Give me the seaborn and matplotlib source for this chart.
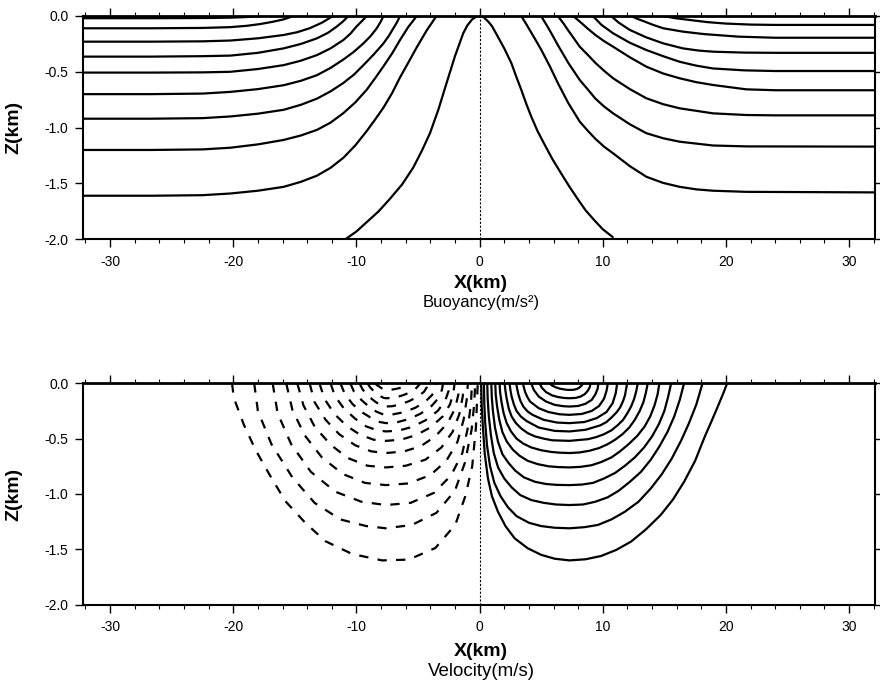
import matplotlib
matplotlib.use("Agg")
import matplotlib.pyplot as plt
import pandas as pd
import seaborn as sns
from matplotlib.ticker import MultipleLocator

# ---------------- axis ticks ----------------
x_ticks = [-30, -20, -10, 0, 10, 20, 30]
x_tick_labels = ["-30", "-20", "-10", "0", "10", "20", "30"]
z_ticks = [0.0, -0.5, -1.0, -1.5, -2.0]
z_tick_labels = ["0.0", "-0.5", "-1.0", "-1.5", "-2.0"]

# ---------------- top panel: buoyancy contours (x km, z km) ----------------
buoy_left_1 = [(-32.2, -0.02), (-26.7, -0.02), (-22.0, -0.018), (-20.25, -0.015), (-19.0, -0.01), (-17.8, 0.0)]
buoy_left_2 = [(-32.2, -0.11), (-26.7, -0.11), (-22.5, -0.107), (-20.25, -0.10), (-18.9, -0.088), (-17.8, -0.072),
               (-16.8, -0.052), (-15.9, -0.03), (-15.1, 0.0)]
buoy_left_3 = [(-32.2, -0.23), (-26.7, -0.23), (-22.5, -0.227), (-20.25, -0.22), (-18.0, -0.20), (-15.9, -0.17),
               (-14.8, -0.145), (-13.8, -0.11), (-12.8, -0.06), (-11.9, 0.0)]
buoy_left_4 = [(-32.2, -0.364), (-26.7, -0.364), (-22.5, -0.36), (-20.25, -0.355), (-18.0, -0.33), (-15.9, -0.29),
               (-14.5, -0.25), (-13.2, -0.20), (-12.3, -0.15), (-11.6, -0.095), (-11.1, -0.05), (-10.65, 0.0)]
buoy_left_5 = [(-32.2, -0.507), (-26.7, -0.507), (-22.5, -0.505), (-20.25, -0.50), (-18.0, -0.475), (-15.9, -0.44),
               (-14.5, -0.40), (-13.2, -0.35), (-12.1, -0.29), (-11.06, -0.215), (-10.5, -0.16), (-10.0, -0.095),
               (-9.55, -0.045), (-9.16, 0.0)]
buoy_left_6 = [(-32.2, -0.70), (-26.7, -0.70), (-22.5, -0.695), (-20.25, -0.68), (-18.0, -0.655), (-15.9, -0.62),
               (-14.5, -0.58), (-13.2, -0.53), (-12.1, -0.465), (-11.06, -0.39), (-10.2, -0.32), (-9.43, -0.245),
               (-8.85, -0.18), (-8.35, -0.11), (-8.05, -0.055), (-7.8, 0.0)]
buoy_left_7 = [(-32.2, -0.92), (-26.7, -0.92), (-22.5, -0.915), (-20.25, -0.90), (-18.0, -0.875), (-15.9, -0.84),
               (-14.5, -0.795), (-13.2, -0.74), (-12.1, -0.675), (-11.06, -0.60), (-10.2, -0.525), (-9.43, -0.44),
               (-8.6, -0.345), (-7.8, -0.245), (-7.35, -0.175), (-7.0, -0.11), (-6.7, -0.055), (-6.46, 0.0)]
buoy_left_8 = [(-32.2, -1.20), (-26.7, -1.20), (-22.5, -1.195), (-20.25, -1.18), (-18.0, -1.15), (-15.9, -1.11),
               (-14.5, -1.07), (-13.2, -1.02), (-12.1, -0.955), (-11.06, -0.87), (-10.1, -0.775), (-9.16, -0.66),
               (-8.5, -0.56), (-7.8, -0.45), (-7.1, -0.335), (-6.46, -0.215), (-5.8, -0.10), (-5.1, 0.0)]
buoy_left_9 = [(-32.2, -1.61), (-26.7, -1.61), (-22.5, -1.605), (-20.25, -1.59), (-18.0, -1.565), (-15.9, -1.53),
               (-14.5, -1.485), (-13.2, -1.43), (-12.1, -1.36), (-11.06, -1.27), (-10.1, -1.16), (-9.16, -1.03),
               (-8.5, -0.93), (-7.8, -0.82), (-7.1, -0.69), (-6.46, -0.55), (-5.8, -0.42), (-5.1, -0.28),
               (-4.3, -0.13), (-3.5, 0.0)]
buoy_center = [(-10.9, -2.0), (-10.0, -1.93), (-9.2, -1.85), (-8.2, -1.75), (-7.3, -1.64), (-6.3, -1.51),
               (-5.4, -1.36), (-4.7, -1.21), (-4.03, -1.05), (-3.35, -0.84), (-2.68, -0.60), (-2.0, -0.36),
               (-1.33, -0.155), (-1.0, -0.085), (-0.6, -0.03), (-0.3, -0.008), (0.0, 0.0),
               (0.3, -0.008), (0.7, -0.05), (1.0, -0.09), (1.48, -0.185), (2.0, -0.29), (2.57, -0.42),
               (3.0, -0.55), (3.38, -0.66), (3.8, -0.79), (4.19, -0.90), (4.7, -1.03), (5.27, -1.15),
               (5.9, -1.28), (6.62, -1.41), (7.3, -1.53), (7.97, -1.64), (8.6, -1.74), (9.32, -1.83),
               (10.0, -1.91), (10.81, -1.98)]
buoy_right_1 = [(14.9, 0.0), (15.9, -0.02), (17.0, -0.035), (18.5, -0.055), (20.0, -0.068), (22.0, -0.077),
                (24.0, -0.08), (32.1, -0.08)]
buoy_right_2 = [(12.3, 0.0), (12.8, -0.025), (13.4, -0.05), (14.1, -0.08), (14.9, -0.11), (16.5, -0.14),
                (18.2, -0.162), (21.0, -0.185), (24.0, -0.195), (32.1, -0.195)]
buoy_right_3 = [(10.67, 0.0), (11.3, -0.06), (12.2, -0.125), (13.5, -0.19), (14.9, -0.245), (16.5, -0.29),
                (17.8, -0.31), (19.0, -0.32), (21.5, -0.328), (24.0, -0.33), (32.1, -0.33)]
buoy_right_4 = [(9.19, 0.0), (9.9, -0.08), (10.84, -0.155), (12.2, -0.24), (13.54, -0.305), (14.9, -0.36),
                (16.24, -0.41), (17.6, -0.445), (18.95, -0.47), (21.5, -0.487), (24.0, -0.493), (32.1, -0.493)]
buoy_right_5 = [(7.6, 0.0), (8.13, -0.05), (8.8, -0.115), (9.4, -0.17), (10.1, -0.225), (10.84, -0.275),
                (12.2, -0.37), (13.54, -0.454), (14.9, -0.515), (16.24, -0.558), (17.6, -0.593), (18.95, -0.618),
                (21.65, -0.657), (24.0, -0.665), (32.1, -0.665)]
buoy_right_6 = [(6.35, 0.0), (6.8, -0.065), (7.2, -0.13), (7.65, -0.2), (8.13, -0.275), (8.8, -0.35),
                (9.4, -0.42), (10.1, -0.49), (10.84, -0.558), (12.2, -0.655), (13.54, -0.737), (14.9, -0.79),
                (16.24, -0.827), (18.95, -0.872), (21.65, -0.887), (24.0, -0.89), (32.1, -0.89)]
buoy_right_7 = [(4.99, 0.0), (5.35, -0.065), (5.7, -0.13), (6.35, -0.26), (7.2, -0.42), (8.13, -0.573),
                (8.8, -0.66), (9.4, -0.74), (10.1, -0.81), (10.84, -0.872), (12.2, -0.97), (13.54, -1.05),
                (14.9, -1.095), (16.24, -1.126), (18.95, -1.16), (21.65, -1.168), (32.1, -1.17)]
buoy_right_8 = [(3.38, 0.0), (3.8, -0.075), (4.2, -0.15), (4.6, -0.225), (4.99, -0.30), (5.7, -0.45),
                (6.35, -0.60), (7.2, -0.78), (8.13, -0.946), (8.8, -1.03), (9.4, -1.10), (10.1, -1.17),
                (10.84, -1.23), (12.2, -1.345), (13.54, -1.44), (14.9, -1.495), (16.24, -1.53), (17.6, -1.553),
                (18.95, -1.565), (21.65, -1.575), (32.1, -1.58)]

# ---------------- bottom panel: velocity contours ----------------
# positive velocity (solid), innermost first
vel_pos_1 = [(5.68, 0.0), (5.85, -0.018), (6.15, -0.035), (6.5, -0.048), (6.9, -0.056), (7.1, -0.059), (7.3, -0.06),
             (7.6, -0.059), (7.85, -0.053), (8.05, -0.043), (8.2, -0.029), (8.32, -0.015), (8.38, 0.0)]
vel_pos_2 = [(4.87, 0.0), (5.05, -0.04), (5.4, -0.08), (5.9, -0.11), (6.4, -0.125), (6.9, -0.133), (7.3, -0.135),
             (7.8, -0.132), (8.2, -0.12), (8.55, -0.097), (8.8, -0.065), (8.95, -0.033), (9.0, 0.0)]
vel_pos_3 = [(4.19, 0.0), (4.4, -0.06), (4.8, -0.12), (5.4, -0.165), (6.1, -0.195), (6.8, -0.207), (7.3, -0.21),
             (8.0, -0.205), (8.6, -0.185), (9.1, -0.15), (9.4, -0.10), (9.58, -0.05), (9.65, 0.0)]
vel_pos_4 = [(3.51, 0.0), (3.6, -0.04), (3.7, -0.08), (3.88, -0.125), (4.1, -0.165), (4.8, -0.225), (5.6, -0.26),
             (6.5, -0.28), (7.3, -0.285), (8.3, -0.277), (9.1, -0.25), (9.7, -0.205), (10.1, -0.14),
             (10.3, -0.07), (10.41, 0.0)]
vel_pos_5 = [(2.97, 0.0), (3.05, -0.05), (3.15, -0.10), (3.32, -0.16), (3.55, -0.21), (3.9, -0.255), (4.3, -0.285),
             (5.2, -0.33), (6.3, -0.355), (7.3, -0.36), (8.5, -0.35), (9.5, -0.315), (10.3, -0.26),
             (10.8, -0.18), (11.05, -0.09), (11.17, 0.0)]
vel_pos_6 = [(2.43, 0.0), (2.5, -0.06), (2.6, -0.12), (2.78, -0.19), (3.0, -0.25), (3.35, -0.30), (3.8, -0.34),
             (4.8, -0.40), (6.1, -0.43), (7.3, -0.435), (8.6, -0.42), (9.8, -0.38), (10.3, -0.35), (10.7, -0.31),
             (11.1, -0.265), (11.4, -0.22), (11.65, -0.16), (11.8, -0.11), (11.98, 0.0)]
vel_pos_7 = [(2.03, 0.0), (2.1, -0.07), (2.2, -0.14), (2.37, -0.23), (2.6, -0.30), (2.95, -0.36), (3.4, -0.41),
             (3.9, -0.45), (4.5, -0.48), (5.2, -0.50), (5.9, -0.515), (7.3, -0.52), (8.8, -0.505), (9.5, -0.485),
             (10.1, -0.46), (10.7, -0.425), (11.2, -0.38), (11.65, -0.33), (12.0, -0.27), (12.3, -0.21),
             (12.55, -0.14), (12.72, -0.07), (12.84, 0.0)]
vel_pos_8 = [(1.62, 0.0), (1.67, -0.085), (1.78, -0.17), (1.95, -0.27), (2.2, -0.36), (2.55, -0.435), (3.0, -0.50),
             (3.55, -0.545), (4.2, -0.58), (5.0, -0.605), (5.8, -0.62), (6.5, -0.627), (7.3, -0.63), (8.1, -0.625),
             (8.9, -0.61), (9.7, -0.585), (10.4, -0.55), (11.0, -0.51), (11.6, -0.46), (12.15, -0.40),
             (12.6, -0.33), (13.0, -0.25), (13.3, -0.17), (13.5, -0.085), (13.65, 0.0)]
vel_pos_9 = [(1.27, 0.0), (1.31, -0.105), (1.42, -0.21), (1.6, -0.33), (1.85, -0.44), (2.2, -0.525), (2.7, -0.60),
             (3.25, -0.655), (3.9, -0.70), (4.7, -0.73), (5.6, -0.75), (6.4, -0.757), (7.3, -0.76), (8.2, -0.755),
             (9.1, -0.74), (9.9, -0.71), (10.7, -0.67), (11.4, -0.615), (12.1, -0.55), (12.8, -0.475),
             (13.4, -0.39), (13.85, -0.30), (14.2, -0.20), (14.45, -0.10), (14.6, 0.0)]
vel_pos_10 = [(0.95, 0.0), (0.99, -0.125), (1.08, -0.25), (1.25, -0.40), (1.5, -0.53), (1.85, -0.64), (2.35, -0.72),
              (2.9, -0.79), (3.6, -0.85), (4.5, -0.89), (5.4, -0.91), (6.3, -0.918), (7.3, -0.92), (8.3, -0.915),
              (9.2, -0.90), (10.1, -0.86), (11.0, -0.81), (11.8, -0.745), (12.6, -0.67), (13.35, -0.58),
              (14.0, -0.48), (14.55, -0.37), (15.0, -0.25), (15.3, -0.125), (15.55, 0.0)]
vel_pos_11 = [(0.62, 0.0), (0.66, -0.15), (0.75, -0.30), (0.92, -0.47), (1.15, -0.63), (1.5, -0.76), (2.0, -0.86),
              (2.6, -0.94), (3.3, -1.01), (4.2, -1.055), (5.2, -1.08), (6.2, -1.095), (7.3, -1.10), (8.4, -1.095),
              (9.4, -1.07), (10.4, -1.03), (11.3, -0.97), (12.2, -0.89), (13.1, -0.80), (13.9, -0.69),
              (14.6, -0.57), (15.25, -0.44), (15.8, -0.30), (16.25, -0.15), (16.6, 0.0)]
vel_pos_12 = [(0.35, 0.0), (0.38, -0.18), (0.45, -0.35), (0.6, -0.56), (0.85, -0.75), (1.2, -0.90), (1.7, -1.02),
              (2.3, -1.12), (3.0, -1.20), (4.0, -1.26), (5.0, -1.29), (6.1, -1.305), (7.3, -1.31), (8.5, -1.30),
              (9.6, -1.28), (10.7, -1.23), (11.8, -1.16), (12.9, -1.07), (13.9, -0.95), (14.8, -0.82),
              (15.6, -0.68), (16.35, -0.52), (17.0, -0.36), (17.6, -0.19), (18.1, 0.0)]
vel_pos_13 = [(0.13, 0.0), (0.17, -0.2), (0.27, -0.40), (0.42, -0.64), (0.68, -0.86), (1.0, -1.02), (1.49, -1.16),
              (2.1, -1.29), (2.84, -1.40), (3.9, -1.49), (5.0, -1.55), (6.1, -1.585), (7.3, -1.60), (8.6, -1.59),
              (9.87, -1.56), (11.1, -1.505), (12.3, -1.43), (13.5, -1.32), (14.7, -1.19), (15.7, -1.05),
              (16.6, -0.89), (17.5, -0.70), (18.25, -0.49), (18.8, -0.35), (19.3, -0.22), (19.75, -0.10),
              (20.1, 0.0)]

# negative velocity (dashed), innermost first
vel_neg_1 = [(-8.5, 0.0), (-8.35, -0.015), (-8.15, -0.03), (-7.95, -0.045), (-7.8, -0.054), (-7.7, -0.058),
             (-7.6, -0.06), (-7.35, -0.059), (-7.0, -0.055), (-6.6, -0.046), (-6.2, -0.032), (-5.95, -0.018),
             (-5.8, -0.007), (-5.7, 0.0)]
vel_neg_2 = [(-9.1, 0.0), (-8.9, -0.035), (-8.6, -0.07), (-8.3, -0.1), (-8.0, -0.12), (-7.8, -0.131), (-7.6, -0.135),
             (-7.2, -0.133), (-6.7, -0.124), (-6.2, -0.107), (-5.6, -0.08), (-5.2, -0.05), (-4.95, -0.02),
             (-4.87, 0.0)]
vel_neg_3 = [(-9.75, 0.0), (-9.5, -0.055), (-9.1, -0.11), (-8.6, -0.155), (-8.2, -0.188), (-7.85, -0.205),
             (-7.6, -0.21), (-7.1, -0.207), (-6.4, -0.19), (-5.7, -0.16), (-5.0, -0.12), (-4.5, -0.075),
             (-4.27, -0.032), (-4.19, 0.0)]
vel_neg_4 = [(-10.5, 0.0), (-10.2, -0.075), (-9.6, -0.15), (-9.0, -0.21), (-8.4, -0.255), (-7.9, -0.278),
             (-7.6, -0.285), (-7.0, -0.28), (-6.1, -0.26), (-5.2, -0.22), (-4.4, -0.165), (-3.85, -0.105),
             (-3.6, -0.045), (-3.51, 0.0)]
vel_neg_5 = [(-11.3, 0.0), (-10.95, -0.095), (-10.3, -0.19), (-9.5, -0.265), (-8.7, -0.32), (-8.1, -0.35),
             (-7.6, -0.36), (-6.8, -0.355), (-5.8, -0.325), (-4.8, -0.275), (-3.9, -0.205), (-3.3, -0.13),
             (-3.05, -0.055), (-2.97, 0.0)]
vel_neg_6 = [(-12.1, 0.0), (-11.75, -0.115), (-11.0, -0.23), (-10.1, -0.32), (-9.2, -0.39), (-8.3, -0.425),
             (-7.6, -0.435), (-6.6, -0.428), (-5.5, -0.395), (-4.4, -0.335), (-3.4, -0.25), (-2.8, -0.16),
             (-2.52, -0.07), (-2.43, 0.0)]
vel_neg_7 = [(-13.0, 0.0), (-12.6, -0.14), (-11.8, -0.275), (-10.8, -0.385), (-9.7, -0.465), (-8.6, -0.51),
             (-7.6, -0.52), (-6.4, -0.51), (-5.2, -0.47), (-4.0, -0.40), (-3.0, -0.30), (-2.4, -0.19),
             (-2.12, -0.08), (-2.03, 0.0)]
vel_neg_8 = [(-13.8, 0.0), (-13.4, -0.17), (-12.5, -0.33), (-11.4, -0.46), (-10.1, -0.56), (-8.8, -0.615),
             (-7.6, -0.63), (-6.2, -0.617), (-4.8, -0.57), (-3.6, -0.48), (-2.6, -0.36), (-2.0, -0.23),
             (-1.72, -0.10), (-1.62, 0.0)]
vel_neg_9 = [(-14.8, 0.0), (-14.3, -0.20), (-13.4, -0.39), (-12.1, -0.555), (-10.7, -0.675), (-9.1, -0.745),
             (-7.6, -0.76), (-6.0, -0.745), (-4.4, -0.69), (-3.1, -0.58), (-2.2, -0.44), (-1.65, -0.28),
             (-1.37, -0.12), (-1.27, 0.0)]
vel_neg_10 = [(-15.7, 0.0), (-15.2, -0.24), (-14.2, -0.47), (-12.8, -0.67), (-11.1, -0.82), (-9.3, -0.90),
              (-7.6, -0.92), (-5.8, -0.905), (-4.0, -0.83), (-2.7, -0.70), (-1.8, -0.53), (-1.3, -0.33),
              (-1.05, -0.15), (-0.95, 0.0)]
vel_neg_11 = [(-16.8, 0.0), (-16.4, -0.27), (-15.3, -0.55), (-13.7, -0.80), (-11.7, -0.98), (-9.6, -1.07),
              (-7.6, -1.10), (-5.6, -1.08), (-3.7, -0.99), (-2.3, -0.83), (-1.4, -0.63), (-0.95, -0.40),
              (-0.7, -0.18), (-0.62, 0.0)]
vel_neg_12 = [(-18.3, 0.0), (-18.0, -0.25), (-16.9, -0.55), (-15.2, -0.85), (-13.4, -1.08), (-11.3, -1.23),
              (-9.2, -1.29), (-7.6, -1.31), (-5.5, -1.28), (-3.5, -1.17), (-2.0, -0.97), (-1.2, -0.72),
              (-0.65, -0.42), (-0.45, -0.2), (-0.35, 0.0)]
vel_neg_13 = [(-20.1, 0.0), (-19.95, -0.133), (-19.14, -0.374), (-18.2, -0.60), (-16.98, -0.84), (-15.76, -1.066),
              (-14.14, -1.262), (-12.51, -1.427), (-10.35, -1.542), (-7.92, -1.60), (-5.76, -1.593),
              (-3.59, -1.488), (-1.97, -1.277), (-1.16, -1.02), (-0.6, -0.75), (-0.3, -0.40), (-0.15, 0.0)]

buoy_contours = [buoy_left_1, buoy_left_2, buoy_left_3, buoy_left_4, buoy_left_5, buoy_left_6,
                 buoy_left_7, buoy_left_8, buoy_left_9, buoy_center,
                 buoy_right_1, buoy_right_2, buoy_right_3, buoy_right_4, buoy_right_5,
                 buoy_right_6, buoy_right_7, buoy_right_8]
vel_pos = [vel_pos_1, vel_pos_2, vel_pos_3, vel_pos_4, vel_pos_5, vel_pos_6, vel_pos_7,
           vel_pos_8, vel_pos_9, vel_pos_10, vel_pos_11, vel_pos_12, vel_pos_13]
vel_neg = [vel_neg_1, vel_neg_2, vel_neg_3, vel_neg_4, vel_neg_5, vel_neg_6, vel_neg_7,
           vel_neg_8, vel_neg_9, vel_neg_10, vel_neg_11, vel_neg_12, vel_neg_13]


def to_frame(contours):
    rows = []
    for cid, pts in enumerate(contours):
        for order, (x, z) in enumerate(pts):
            rows.append({"cid": cid, "order": order, "x": x, "z": z})
    return pd.DataFrame(rows)


df_buoy = to_frame(buoy_contours)
df_pos = to_frame(vel_pos)
df_neg = to_frame(vel_neg)

# ---------------- style ----------------
sns.set_style("ticks")
plt.rcParams["font.family"] = ["Liberation Sans", "DejaVu Sans"]
plt.rcParams["axes.unicode_minus"] = False
plt.rcParams["text.color"] = "black"
plt.rcParams["axes.labelcolor"] = "black"
plt.rcParams["xtick.color"] = "black"
plt.rcParams["ytick.color"] = "black"
plt.rcParams["lines.solid_joinstyle"] = "round"
plt.rcParams["lines.dash_joinstyle"] = "round"

fig = plt.figure(figsize=(8.8, 6.89), dpi=100)
ax1 = fig.add_axes([0.0943, 0.6527, 0.9000, 0.3241])
ax2 = fig.add_axes([0.0943, 0.1224, 0.9000, 0.3213])

sns.lineplot(data=df_buoy, x="x", y="z", units="cid", estimator=None, sort=False,
             color="black", lw=1.6, legend=False, ax=ax1)
sns.lineplot(data=df_pos, x="x", y="z", units="cid", estimator=None, sort=False,
             color="black", lw=1.6, legend=False, ax=ax2)
sns.lineplot(data=df_neg, x="x", y="z", units="cid", estimator=None, sort=False,
             color="black", lw=1.6, legend=False, ax=ax2, linestyle=(0, (4.2, 4.2)))

for ax in (ax1, ax2):
    ax.axvline(0, color="black", lw=0.8, ls=(0, (2.0, 1.5)), zorder=1)
    ax.set_xlim(-32.2, 32.1)
    ax.set_ylim(-2.0, 0.0)
    ax.set_xticks(x_ticks)
    ax.set_xticklabels(x_tick_labels)
    ax.set_yticks(z_ticks)
    ax.set_yticklabels(z_tick_labels)
    ax.xaxis.set_minor_locator(MultipleLocator(2))
    ax.tick_params(which="both", direction="out", top=True, right=True,
                   labeltop=False, labelright=False, colors="black", labelsize=10)
    ax.tick_params(axis="x", which="major", length=6, width=1.0, pad=5)
    ax.tick_params(axis="x", which="minor", length=3, width=0.8)
    ax.tick_params(axis="y", which="major", length=5.5, width=1.0, pad=5)
    for side, sp in ax.spines.items():
        sp.set_visible(True)
        sp.set_linewidth(1.5)
        sp.set_color("black")
    ax.spines["top"].set_linewidth(2.0)
    ax.set_xlabel("")
    ax.set_ylabel("Z(km)", fontsize=14, fontweight="bold", color="black")
    ax.yaxis.set_label_coords(-0.077, 0.5)

fig.text(0.5466, 1 - 284 / 689, "X(km)", ha="center", va="center", fontsize=14, fontweight="bold", color="black")
fig.text(0.5466, 1 - 302 / 689, "Buoyancy(m/s²)", ha="center", va="center", fontsize=12, color="black")
fig.text(0.5466, 1 - 652 / 689, "X(km)", ha="center", va="center", fontsize=14, fontweight="bold", color="black")
fig.text(0.5466, 1 - 672 / 689, "Velocity(m/s)", ha="center", va="center", fontsize=13.5, color="black")

fig.savefig("out.png", dpi=100)
